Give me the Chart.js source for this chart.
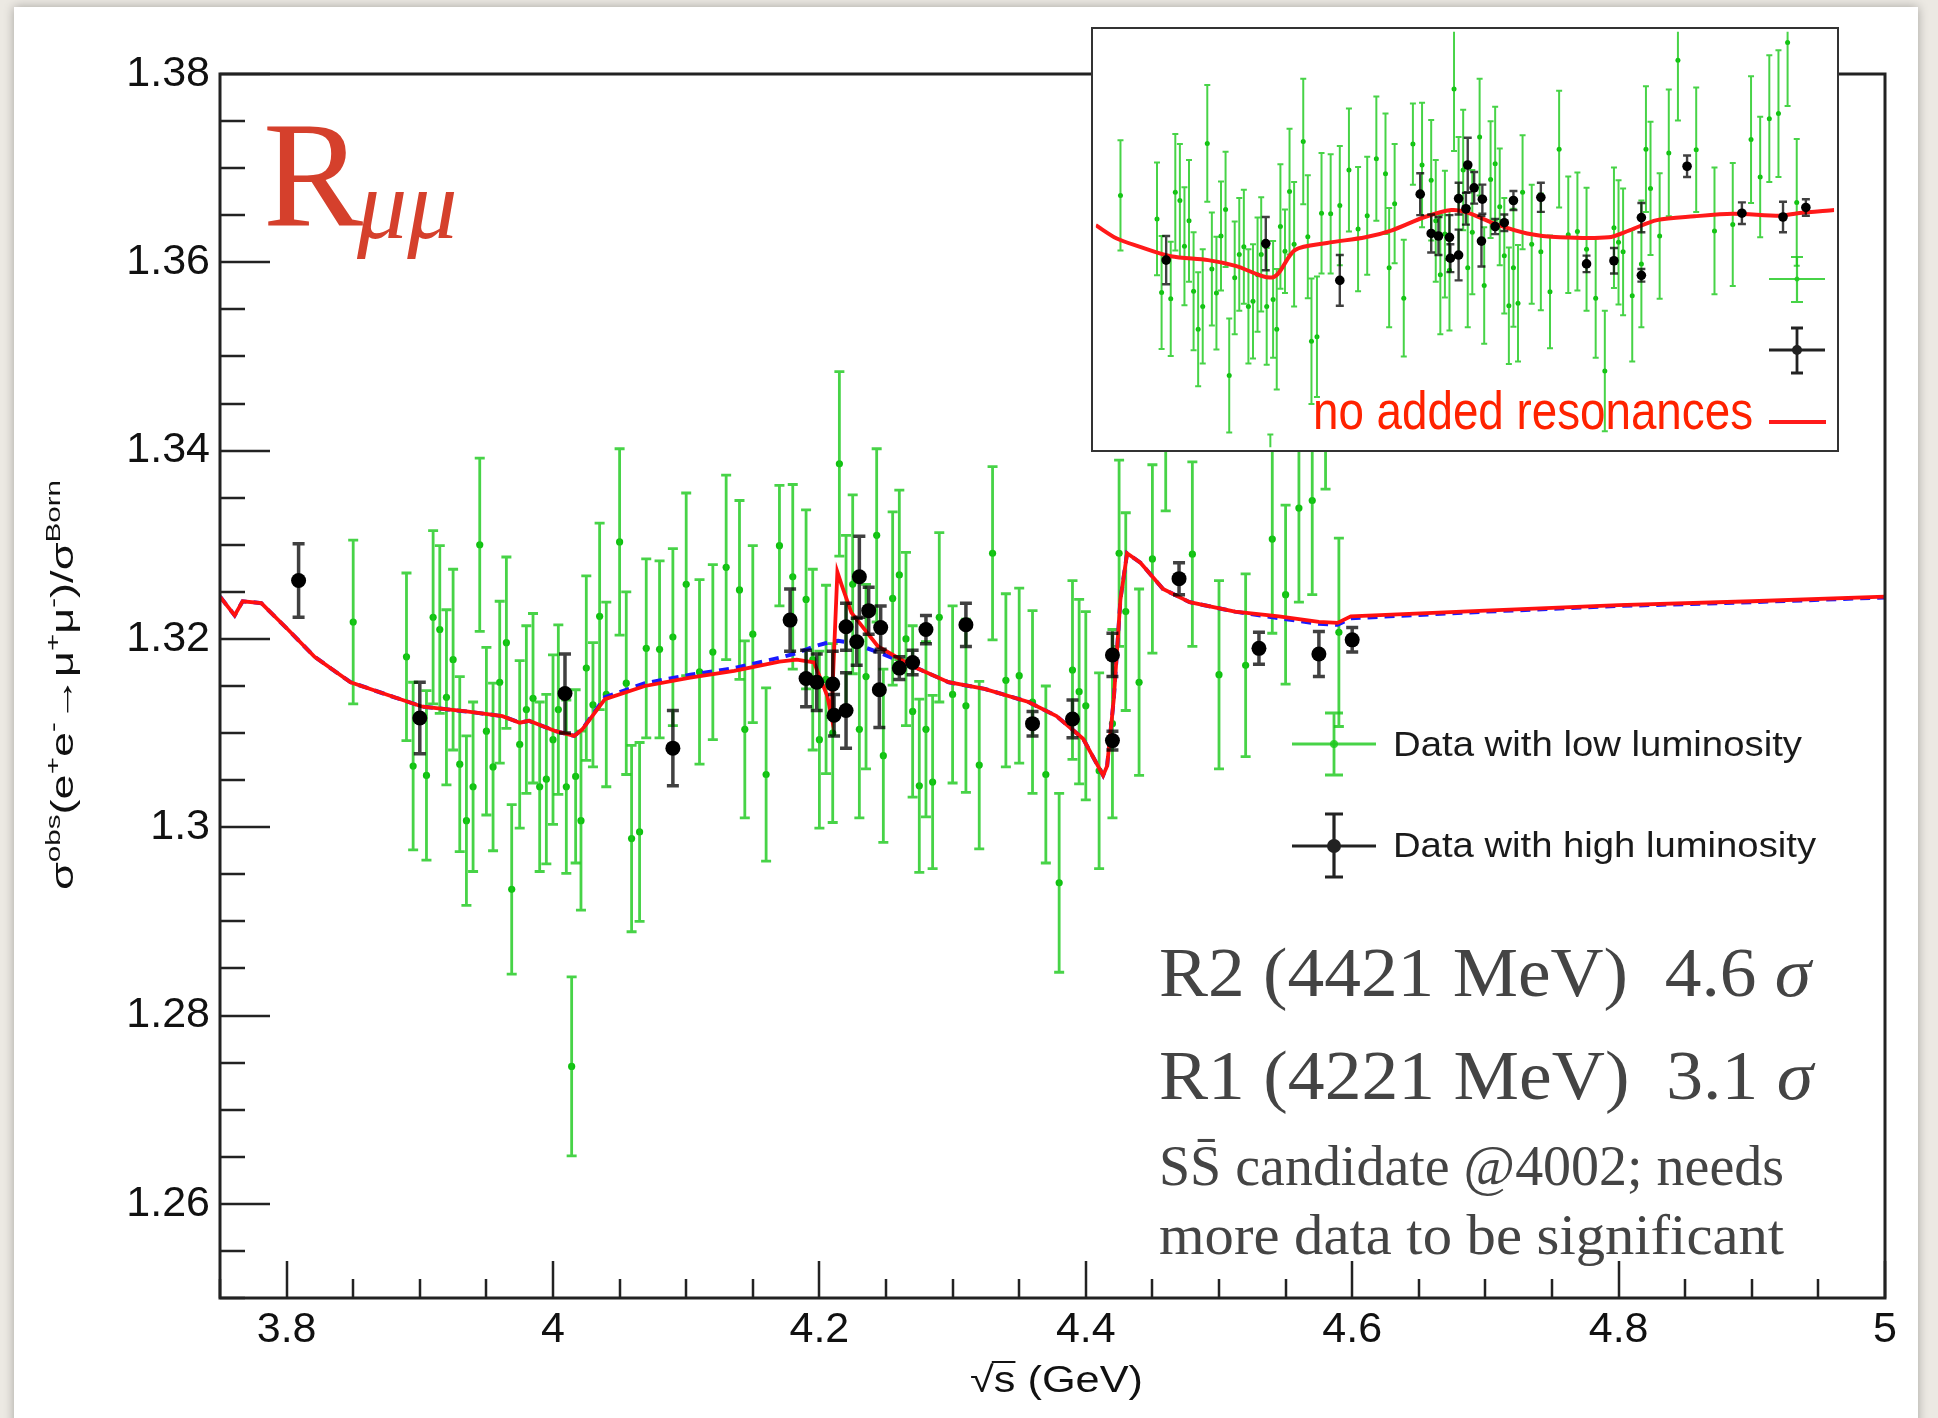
<!DOCTYPE html>
<html>
<head>
<meta charset="utf-8">
<script src="https://cdn.jsdelivr.net/npm/chart.js@4.4.0/dist/chart.umd.min.js"></script>
<style>
  html, body { margin: 0; padding: 0; background: #ecE9e3; width: 1938px; height: 1418px; overflow: hidden; }
  #panel { position: absolute; left: 14px; top: 7px; width: 1904px; height: 1430px; background: #fff; box-shadow: 0 0 10px rgba(0,0,0,0.3); }
  #main { position: absolute; left: 0; top: 0; }
  #inset { position: absolute; left: 1091px; top: 27px; }
</style>
</head>
<body>
<div id="panel"></div>
<canvas id="main" width="1938" height="1418"></canvas>
<canvas id="inset" width="748" height="425"></canvas>
<script>
// low luminosity data (green)
const lowX = [3.850, 3.890, 3.895, 3.905, 3.910, 3.915, 3.920, 3.925, 3.930, 3.935,
  3.940, 3.945, 3.950, 3.955, 3.960, 3.965, 3.969, 3.975, 3.980, 3.985,
  3.990, 3.995, 4.000, 4.004, 4.010, 4.014, 4.017, 4.021, 4.025, 4.030,
  4.035, 4.040, 4.050, 4.055, 4.059, 4.065, 4.070, 4.080, 4.090, 4.100,
  4.110, 4.120, 4.130, 4.140, 4.144, 4.150, 4.160, 4.170, 4.180, 4.190,
  4.195, 4.200, 4.205, 4.210, 4.215, 4.220, 4.225, 4.230, 4.235, 4.243,
  4.248, 4.255, 4.260, 4.265, 4.270, 4.275, 4.280, 4.285, 4.290, 4.300,
  4.310, 4.320, 4.330, 4.340, 4.350, 4.360, 4.370, 4.380, 4.390, 4.395,
  4.400, 4.410, 4.420, 4.425, 4.430, 4.440, 4.450, 4.460, 4.480, 4.500,
  4.520, 4.540, 4.550, 4.560, 4.570, 4.580, 4.590];
const lowY = [1.3218, 1.3181, 1.3065, 1.3055, 1.3223, 1.3210, 1.3138, 1.3178, 1.3067, 1.3007,
  1.3043, 1.3300, 1.3102, 1.3064, 1.3154, 1.3196, 1.2934, 1.3088, 1.3125, 1.3137,
  1.3043, 1.3051, 1.3093, 1.3125, 1.3043, 1.2746, 1.3054, 1.3007, 1.3169, 1.3130,
  1.3224, 1.3141, 1.3303, 1.3153, 1.2988, 1.2995, 1.3190, 1.3189, 1.3202, 1.3258,
  1.3165, 1.3186, 1.3276, 1.3252, 1.3104, 1.3205, 1.3056, 1.3299, 1.3266, 1.3242,
  1.3178, 1.3093, 1.3157, 1.3100, 1.3386, 1.3215, 1.3258, 1.3104, 1.3160, 1.3310,
  1.3076, 1.3243, 1.3268, 1.3200, 1.3123, 1.3044, 1.3104, 1.3048, 1.3223, 1.3141,
  1.3129, 1.3066, 1.3291, 1.3156, 1.3161, 1.3133, 1.3056, 1.2941, 1.3167, 1.3144,
  1.3129, 1.3060, 1.3110, 1.3291, 1.3229, 1.3154, 1.3285, 1.3431, 1.3290, 1.3162,
  1.3172, 1.3306, 1.3247, 1.3339, 1.3347, 1.3459, 1.3207];
const lowErr = [0.0087, 0.0089, 0.0089, 0.0090, 0.0092, 0.0089, 0.0093, 0.0096, 0.0093, 0.0090,
  0.0090, 0.0092, 0.0089, 0.0089, 0.0086, 0.0091, 0.0090, 0.0089, 0.0089, 0.0090,
  0.0090, 0.0090, 0.0090, 0.0090, 0.0092, 0.0095, 0.0092, 0.0095, 0.0098, 0.0066,
  0.0099, 0.0098, 0.0099, 0.0097, 0.0099, 0.0095, 0.0095, 0.0094, 0.0094, 0.0097,
  0.0098, 0.0093, 0.0098, 0.0095, 0.0094, 0.0094, 0.0092, 0.0064, 0.0098, 0.0095,
  0.0096, 0.0094, 0.0100, 0.0095, 0.0098, 0.0095, 0.0095, 0.0094, 0.0098, 0.0092,
  0.0092, 0.0092, 0.0090, 0.0092, 0.0091, 0.0092, 0.0093, 0.0092, 0.0090, 0.0094,
  0.0092, 0.0089, 0.0092, 0.0092, 0.0093, 0.0097, 0.0094, 0.0095, 0.0095, 0.0098,
  0.0100, 0.0104, 0.0100, 0.0099, 0.0105, 0.0099, 0.0100, 0.0095, 0.0098, 0.0100,
  0.0097, 0.0100, 0.0095, 0.0100, 0.0100, 0.0100, 0.0100];

// high luminosity data (black)
const highX = [3.809, 3.900, 4.009, 4.090, 4.178, 4.190, 4.198, 4.210, 4.211, 4.220,
  4.220, 4.228, 4.230, 4.237, 4.245, 4.246, 4.260, 4.270, 4.280, 4.310,
  4.360, 4.390, 4.420, 4.420, 4.470, 4.530, 4.575, 4.600];
const highY = [1.3262, 1.3116, 1.3142, 1.3084, 1.3220, 1.3158, 1.3154, 1.3152, 1.3119, 1.3124,
  1.3213, 1.3197, 1.3266, 1.3230, 1.3146, 1.3212, 1.3169, 1.3175, 1.3210, 1.3215,
  1.3110, 1.3115, 1.3183, 1.3092, 1.3264, 1.3190, 1.3184, 1.3199];
const highErr = [0.0039, 0.0038, 0.0042, 0.0040, 0.0033, 0.0030, 0.0030, 0.0035, 0.0022, 0.0040,
  0.0025, 0.0025, 0.0043, 0.0025, 0.0040, 0.0023, 0.0012, 0.0013, 0.0015, 0.0023,
  0.0013, 0.0020, 0.0023, 0.0010, 0.0017, 0.0017, 0.0024, 0.0013];

// fit with R1 + R2 (red)
const fitX = [3.750, 3.761, 3.767, 3.781, 3.801, 3.821, 3.848, 3.881, 3.902, 3.935,
  3.962, 3.975, 3.982, 4.002, 4.016, 4.022, 4.039, 4.069, 4.103, 4.136,
  4.170, 4.183, 4.196, 4.206, 4.209, 4.2135, 4.217, 4.224, 4.244, 4.270,
  4.297, 4.324, 4.357, 4.378, 4.398, 4.413, 4.416, 4.421, 4.426, 4.431,
  4.441, 4.458, 4.478, 4.512, 4.545, 4.575, 4.589, 4.599, 4.700, 4.800,
  4.900, 5.000];
const fitY = [1.3245, 1.3225, 1.3240, 1.3238, 1.3210, 1.3181, 1.3154, 1.3138, 1.3128, 1.3123,
  1.3118, 1.3111, 1.3113, 1.3102, 1.3097, 1.3104, 1.3136, 1.3150, 1.3159, 1.3166,
  1.3176, 1.3178, 1.3175, 1.3139, 1.3118, 1.3271, 1.3256, 1.3228, 1.3192, 1.3171,
  1.3154, 1.3147, 1.3133, 1.3118, 1.3094, 1.3055, 1.3065, 1.3136, 1.3242, 1.3291,
  1.3281, 1.3253, 1.3239, 1.3229, 1.3224, 1.3218, 1.3217, 1.3224, 1.3230, 1.3236,
  1.3240, 1.3245];

// fit without R1 (blue dashed)
const fitNoR1X = [3.750, 3.761, 3.767, 3.781, 3.801, 3.821, 3.848, 3.881, 3.902, 3.935,
  3.962, 3.975, 3.982, 4.002, 4.016, 4.022, 4.039, 4.069, 4.103, 4.136,
  4.170, 4.183, 4.196, 4.206, 4.214, 4.224, 4.244, 4.270, 4.297, 4.324,
  4.357, 4.378, 4.398, 4.413, 4.416, 4.421, 4.426, 4.431, 4.441, 4.458,
  4.478, 4.512, 4.545, 4.575, 4.589, 4.599, 4.700, 4.800, 4.900, 5.000];
const fitNoR1Y = [1.3245, 1.3225, 1.3240, 1.3238, 1.3210, 1.3181, 1.3154, 1.3138, 1.3128, 1.3123,
  1.3118, 1.3111, 1.3113, 1.3102, 1.3097, 1.3104, 1.3138, 1.3153, 1.3162, 1.3169,
  1.3180, 1.3185, 1.3192, 1.3196, 1.3198, 1.3196, 1.3186, 1.3171, 1.3154, 1.3147,
  1.3133, 1.3118, 1.3094, 1.3055, 1.3065, 1.3136, 1.3242, 1.3291, 1.3281, 1.3253,
  1.3239, 1.3229, 1.3222, 1.3216, 1.3215, 1.3222, 1.3229, 1.3235, 1.3239, 1.3244];

// inset: fit with no added resonances
const noResX = [3.823, 3.846, 3.869, 3.905, 3.946, 3.976, 4.017, 4.041, 4.076, 4.118,
  4.147, 4.183, 4.212, 4.230, 4.260, 4.295, 4.331, 4.384, 4.407, 4.437,
  4.478, 4.520, 4.573, 4.591, 4.631];
const noResY = [1.3171, 1.3150, 1.3138, 1.3122, 1.3116, 1.3107, 1.3089, 1.3132, 1.3143, 1.3152,
  1.3163, 1.3184, 1.3195, 1.3191, 1.3173, 1.3158, 1.3152, 1.3152, 1.3163, 1.3179,
  1.3185, 1.3189, 1.3186, 1.3190, 1.3195];

const xTicks = [3.8, 4, 4.2, 4.4, 4.6, 4.8, 5];
const xTickLabels = ['3.8', '4', '4.2', '4.4', '4.6', '4.8', '5'];
const yTicks = [1.26, 1.28, 1.30, 1.32, 1.34, 1.36, 1.38];
const yTickLabels = ['1.26', '1.28', '1.3', '1.32', '1.34', '1.36', '1.38'];

const GREEN = 'rgba(25,200,25,0.8)';
const GREEN_PT = '#10c010';
const toPts = (xs, ys) => xs.map((x, i) => ({ x: x, y: ys[i] }));

// draws a row of text pieces, squeezed to a given width
function drawParts(ctx, parts, x, y, width) {
  let total = 0;
  parts.forEach(p => { ctx.font = p.f; p.w = ctx.measureText(p.t).width; total += p.w; });
  const s = width ? width / total : 1;
  ctx.save();
  ctx.translate(x, y);
  ctx.scale(s, 1);
  let cx = 0;
  parts.forEach(p => { ctx.font = p.f; ctx.fillText(p.t, cx, p.dy || 0); cx += p.w; });
  ctx.restore();
  return total * s;
}

const errorBars = {
  id: 'errorBars',
  afterDatasetDraw(chart, args) {
    const ds = chart.data.datasets[args.index];
    if (!ds.errors) return;
    const ctx = chart.ctx, area = chart.chartArea;
    const xs = chart.scales.x, ys = chart.scales.y;
    ctx.save();
    ctx.beginPath();
    ctx.rect(area.left, area.top, area.right - area.left, area.bottom - area.top);
    ctx.clip();
    ctx.strokeStyle = ds.barColor;
    ctx.lineWidth = ds.barWidth;
    ds.data.forEach((p, i) => {
      const px = xs.getPixelForValue(p.x);
      const top = ys.getPixelForValue(p.y + ds.errors[i]);
      const bot = ys.getPixelForValue(p.y - ds.errors[i]);
      ctx.beginPath();
      ctx.moveTo(px, top); ctx.lineTo(px, bot);
      ctx.moveTo(px - ds.cap, top); ctx.lineTo(px + ds.cap, top);
      ctx.moveTo(px - ds.cap, bot); ctx.lineTo(px + ds.cap, bot);
      ctx.stroke();
    });
    ctx.restore();
  }
};

function cross(ctx, cx, cy, halfW, top, bot, cap, color, lw, r) {
  ctx.strokeStyle = color;
  ctx.fillStyle = color;
  ctx.lineWidth = lw;
  ctx.beginPath();
  ctx.moveTo(cx - halfW, cy); ctx.lineTo(cx + halfW, cy);
  ctx.moveTo(cx, top); ctx.lineTo(cx, bot);
  ctx.moveTo(cx - cap, top); ctx.lineTo(cx + cap, top);
  ctx.moveTo(cx - cap, bot); ctx.lineTo(cx + cap, bot);
  ctx.stroke();
  ctx.beginPath();
  ctx.arc(cx, cy, r, 0, Math.PI * 2);
  ctx.fill();
}

const frameAndText = {
  id: 'frameAndText',
  afterDraw(chart) {
    const ctx = chart.ctx, a = chart.chartArea;
    const xs = chart.scales.x, ys = chart.scales.y;
    ctx.save();
    // inward ticks
    ctx.strokeStyle = '#222';
    ctx.lineWidth = 2.5;
    ctx.beginPath();
    for (let k = 0; k <= 25; k++) {
      const v = 3.75 + k * 0.05;
      const px = Math.round(xs.getPixelForValue(v));
      const major = xTicks.some(t => Math.abs(t - v) < 1e-6);
      ctx.moveTo(px, a.bottom); ctx.lineTo(px, a.bottom - (major ? 37 : 19));
    }
    for (let k = 0; k <= 26; k++) {
      const v = 1.25 + k * 0.005;
      const py = Math.round(ys.getPixelForValue(v));
      const major = yTicks.some(t => Math.abs(t - v) < 1e-6);
      ctx.moveTo(a.left, py); ctx.lineTo(a.left + (major ? 50 : 25), py);
    }
    ctx.stroke();
    // frame
    ctx.lineWidth = 3;
    ctx.strokeRect(a.left, a.top, a.right - a.left, a.bottom - a.top);

    ctx.textAlign = 'left';
    ctx.textBaseline = 'alphabetic';

    // R_mumu
    ctx.fillStyle = '#d5402c';
    ctx.font = '150px "Liberation Serif"';
    ctx.fillText('R', 263, 225);
    ctx.font = 'italic 100px "Liberation Serif"';
    ctx.fillText('\u03bc\u03bc', 357, 238);

    // legend
    cross(ctx, 1334, 744, 42, 713, 775, 9, GREEN, 2.8, 4);
    cross(ctx, 1334, 846, 42, 814, 877, 9, '#222', 3.2, 7);
    ctx.fillStyle = '#1a1a1a';
    drawParts(ctx, [{ t: 'Data with low luminosity', f: '35px "Liberation Sans"' }], 1393, 756, 409);
    drawParts(ctx, [{ t: 'Data with high luminosity', f: '35px "Liberation Sans"' }], 1393, 857, 423);

    // annotations
    ctx.fillStyle = '#444';
    const serif = '70px "Liberation Serif"';
    const serifIt = 'italic 70px "Liberation Serif"';
    drawParts(ctx, [{ t: 'R2 (4421 MeV)  4.6 ', f: serif }, { t: '\u03c3', f: serifIt }], 1159, 996, 652);
    drawParts(ctx, [{ t: 'R1 (4221 MeV)  3.1 ', f: serif }, { t: '\u03c3', f: serifIt }], 1159, 1099, 654);
    drawParts(ctx, [{ t: 'SS\u0304 candidate @4002; needs', f: '56px "Liberation Serif"' }], 1159, 1185, 625);
    drawParts(ctx, [{ t: 'more data to be significant', f: '56px "Liberation Serif"' }], 1159, 1254, 625);

    // axis titles
    ctx.fillStyle = '#111';
    const big = '32px "Liberation Sans"', small = '21px "Liberation Sans"';
    ctx.save();
    ctx.translate(73, 890);
    ctx.rotate(-Math.PI / 2);
    drawParts(ctx, [
      { t: '\u03c3', f: big }, { t: 'obs', f: small, dy: -13 },
      { t: '(e', f: big }, { t: '+', f: small, dy: -13 },
      { t: 'e', f: big }, { t: '-', f: small, dy: -13 },
      { t: '\u2192\u03bc', f: big }, { t: '+', f: small, dy: -13 },
      { t: '\u03bc', f: big }, { t: '-', f: small, dy: -13 },
      { t: ')/\u03c3', f: big }, { t: 'Born', f: small, dy: -13 }
    ], 0, 0, 410);
    ctx.restore();

    ctx.font = '36px "Liberation Sans"';
    const wRad = ctx.measureText('\u221a').width;
    const wS = ctx.measureText('s').width;
    drawParts(ctx, [{ t: '\u221a', f: '36px "Liberation Sans"' }, { t: 's (GeV)', f: '36px "Liberation Sans"' }], 970, 1392, 173);
    const sc = 173 / ctx.measureText('\u221as (GeV)').width;
    ctx.strokeStyle = '#111';
    ctx.lineWidth = 2;
    ctx.beginPath();
    ctx.moveTo(970 + wRad * sc - 2, 1362);
    ctx.lineTo(970 + (wRad + wS) * sc, 1362);
    ctx.stroke();
    ctx.restore();
  }
};

new Chart(document.getElementById('main'), {
  type: 'scatter',
  data: {
    datasets: [
      { label: 'Data with high luminosity', data: toPts(highX, highY), errors: highErr,
        barColor: 'rgba(0,0,0,0.75)', barWidth: 3.5, cap: 6,
        pointRadius: 7.5, backgroundColor: '#000', borderWidth: 0, order: 0 },
      { label: 'fit', type: 'line', data: toPts(fitX, fitY), borderColor: '#ff1010',
        borderWidth: 3.8, pointRadius: 0, fill: false, tension: 0, order: 1 },
      { label: 'fit without R1', type: 'line', data: toPts(fitNoR1X, fitNoR1Y), borderColor: '#1a1aff',
        borderWidth: 4, borderDash: [10, 7], pointRadius: 0, fill: false, tension: 0, order: 2 },
      { label: 'Data with low luminosity', data: toPts(lowX, lowY), errors: lowErr,
        barColor: GREEN, barWidth: 2.8, cap: 5,
        pointRadius: 3.6, backgroundColor: GREEN_PT, borderWidth: 0, order: 3 }
    ]
  },
  options: {
    responsive: false,
    animation: false,
    devicePixelRatio: 1,
    layout: { padding: { left: 0, right: 53, top: 74, bottom: 0 } },
    plugins: { legend: { display: false }, tooltip: { enabled: false } },
    scales: {
      x: {
        type: 'linear', min: 3.75, max: 5,
        grid: { display: false, drawTicks: false }, border: { display: false },
        afterBuildTicks: s => { s.ticks = xTicks.map(v => ({ value: v })); },
        afterFit: s => { s.height = 120; },
        ticks: { autoSkip: false, maxRotation: 0, padding: 6, color: '#111',
          font: { family: 'Liberation Sans', size: 43 },
          callback: (v, i) => xTickLabels[i] }
      },
      y: {
        type: 'linear', min: 1.25, max: 1.38,
        grid: { display: false, drawTicks: false }, border: { display: false },
        afterBuildTicks: s => { s.ticks = yTicks.map(v => ({ value: v })); },
        afterFit: s => { s.width = 220; },
        ticks: { autoSkip: false, padding: 10, color: '#111',
          font: { family: 'Liberation Sans', size: 43 },
          callback: (v, i) => yTickLabels[i] }
      }
    }
  },
  plugins: [errorBars, frameAndText]
});

const insetDecor = {
  id: 'insetDecor',
  beforeDraw(chart) {
    const ctx = chart.ctx;
    ctx.save();
    ctx.fillStyle = '#fff';
    ctx.fillRect(0, 0, chart.width, chart.height);
    ctx.restore();
  },
  afterDraw(chart) {
    const ctx = chart.ctx;
    ctx.save();
    cross(ctx, 706, 252, 28, 230, 275, 6, GREEN, 2.2, 2.5);
    cross(ctx, 706, 323, 28, 301, 346, 6, '#222', 2.8, 5);
    ctx.strokeStyle = '#ff1a1a';
    ctx.lineWidth = 3.8;
    ctx.beginPath();
    ctx.moveTo(678, 395); ctx.lineTo(735, 395);
    ctx.stroke();
    ctx.fillStyle = '#ff2200';
    ctx.textBaseline = 'alphabetic';
    drawParts(ctx, [{ t: 'no added resonances', f: '53px "Liberation Sans Narrow", "Liberation Sans"' }], 222, 402, 440);
    ctx.strokeStyle = '#333';
    ctx.lineWidth = 2;
    ctx.strokeRect(1, 1, chart.width - 2, chart.height - 2);
    ctx.restore();
  }
};

new Chart(document.getElementById('inset'), {
  type: 'scatter',
  data: {
    datasets: [
      { label: 'high', data: toPts(highX, highY), errors: highErr,
        barColor: 'rgba(0,0,0,0.75)', barWidth: 2.4, cap: 4,
        pointRadius: 4.8, backgroundColor: '#000', borderWidth: 0, order: 0 },
      { label: 'no added resonances', type: 'line', data: toPts(noResX, noResY), borderColor: '#ff1a1a',
        borderWidth: 4, pointRadius: 0, fill: false, tension: 0.3, order: 1 },
      { label: 'low', data: toPts(lowX, lowY), errors: lowErr,
        barColor: GREEN, barWidth: 2, cap: 3,
        pointRadius: 2.5, backgroundColor: GREEN_PT, borderWidth: 0, order: 2 }
    ]
  },
  options: {
    responsive: false,
    animation: false,
    devicePixelRatio: 1,
    layout: { padding: 0 },
    plugins: { legend: { display: false }, tooltip: { enabled: false } },
    scales: {
      x: { type: 'linear', min: 3.823, max: 4.631, display: false },
      y: { type: 'linear', min: 1.2821, max: 1.3476, display: false }
    }
  },
  plugins: [insetDecor, errorBars]
});
</script>
</body>
</html>
